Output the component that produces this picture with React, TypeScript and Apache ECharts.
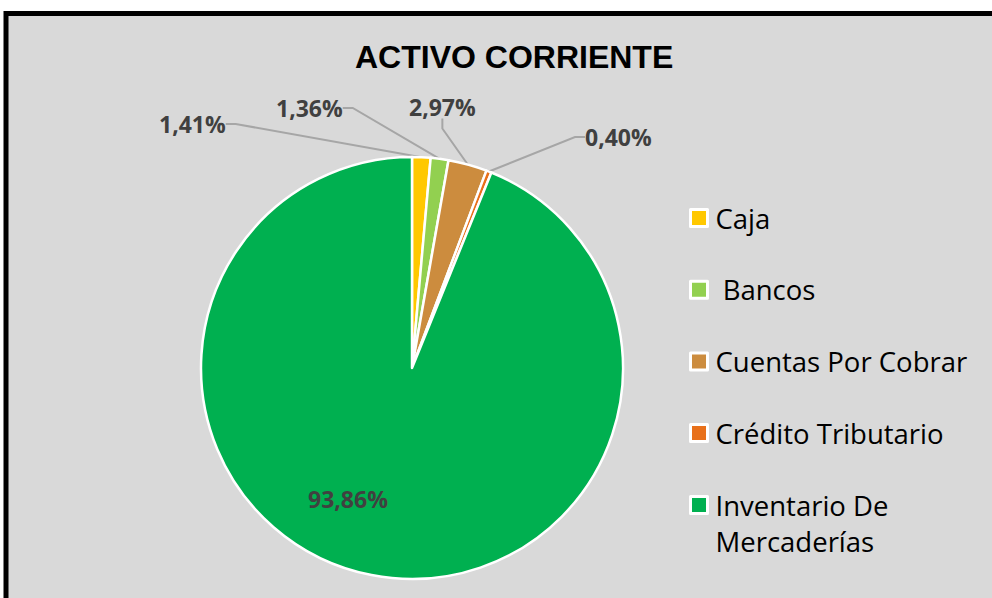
import React, { useEffect, useRef } from 'react';
import * as echarts from 'echarts';

const TITLE = 'ACTIVO CORRIENTE';
const CATEGORIES = ['Caja', ' Bancos', 'Cuentas Por Cobrar', 'Crédito Tributario', 'Inventario De Mercaderías'];
const VALUES = [1.41, 1.36, 2.97, 0.4, 93.86];
const COLORS = ['#FFC800', '#92D050', '#CC8C3E', '#E8701A', '#00B050'];
// label anchor positions (x, y) in pixels, left-aligned, vertically centred
const LABEL_POS = [
  [159, 124],
  [276, 108],
  [409, 107],
  [585, 137],
  [308, 499],
];

export default function App() {
  const ref = useRef<HTMLDivElement>(null);
  useEffect(() => {
    if (!ref.current) return;
    const chart = echarts.init(ref.current, undefined, { renderer: 'svg' });
    const legendCommon = {
      orient: 'vertical',
      left: 689,
      padding: 0,
      itemWidth: 17,
      itemHeight: 17,
      itemGap: 35.7,
      icon: 'rect',
      selectedMode: false,
      itemStyle: { borderColor: '#ffffff', borderWidth: 3 },
      textStyle: {
        fontFamily: 'Open Sans',
        fontSize: 27.5,
        color: '#000000',
        lineHeight: 36,
        padding: [0, 0, 0, 3],
      },
    };
    chart.setOption({
      animation: false,
      backgroundColor: '#ffffff',
      title: {
        text: TITLE,
        left: 355,
        top: 41,
        padding: 0,
        textStyle: {
          fontFamily: 'Liberation Sans',
          fontWeight: 'bold',
          fontSize: 32,
          color: '#000000',
        },
      },
      graphic: [
        {
          type: 'rect',
          z: -10,
          silent: true,
          shape: { x: 6, y: 13.5, width: 1200, height: 800 },
          style: { fill: '#d9d9d9', stroke: '#000000', lineWidth: 5 },
        },
      ],
      legend: [
        { ...legendCommon, top: 200, data: CATEGORIES.slice(0, 4) },
        {
          ...legendCommon,
          top: 451,
          data: [CATEGORIES[4]],
          formatter: (n: string) => '\n' + n.replace(' De ', ' De\n'),
        },
      ],
      series: [
        {
          type: 'pie',
          center: [412, 368],
          radius: 211,
          startAngle: 90,
          clockwise: true,
          avoidLabelOverlap: false,
          itemStyle: { borderColor: '#ffffff', borderWidth: 2.5 },
          label: {
            show: true,
            position: 'outside',
            fontFamily: 'Open Sans',
            fontWeight: 'bold',
            fontSize: 23,
            color: '#404040',
            formatter: (p: any) => p.value.toFixed(2).replace('.', ',') + '%',
          },
          labelLine: {
            show: true,
            length: 10,
            length2: 10,
            lineStyle: { color: '#a6a6a6', width: 2 },
          },
          labelLayout: (params: any) => {
            const p = LABEL_POS[params.dataIndex];
            return { x: p[0], y: p[1], align: 'left', verticalAlign: 'middle' };
          },
          data: CATEGORIES.map((name, i) => ({
            name,
            value: VALUES[i],
            itemStyle: { color: COLORS[i] },
            ...(i === 4 ? { labelLine: { show: false }, label: { position: 'inside' } } : {}),
          })),
        },
      ],
    });
    return () => chart.dispose();
  }, []);
  return (
    <div style={{ position: 'fixed', left: 0, top: 0, width: 992, height: 598 }}>
      <div ref={ref} style={{ width: 992, height: 598 }} />
    </div>
  );
}
